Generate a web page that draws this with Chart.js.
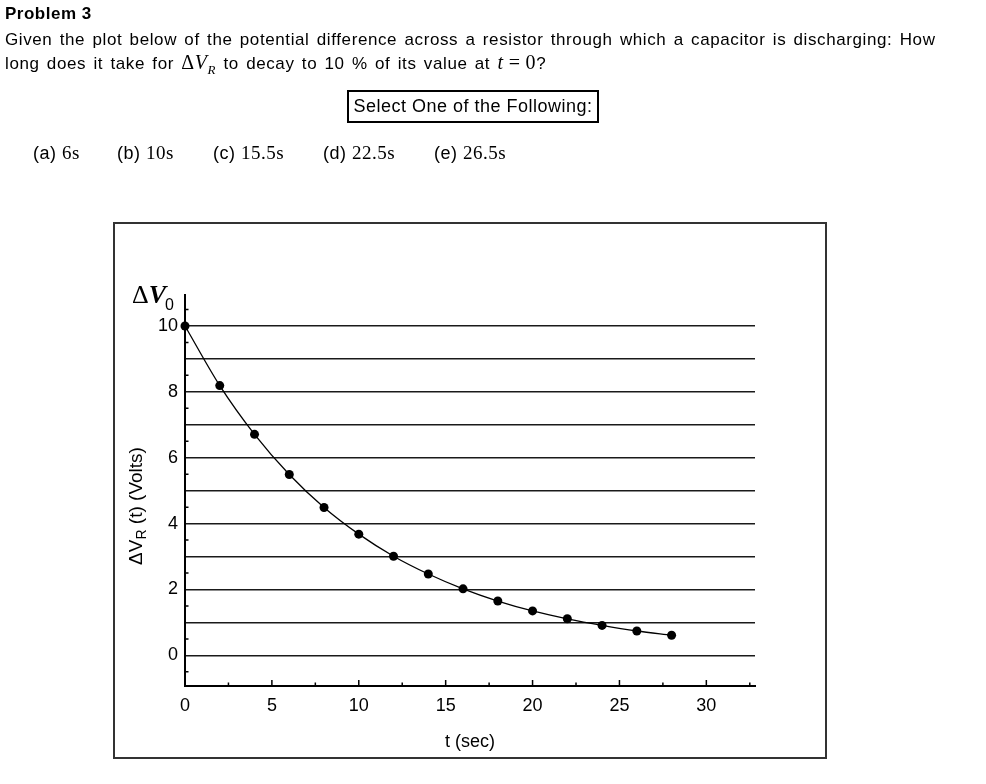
<!DOCTYPE html>
<html>
<head>
<meta charset="utf-8">
<script src="https://cdn.jsdelivr.net/npm/chart.js@4.4.1/dist/chart.umd.min.js"></script>
<style>
  body { margin: 0; width: 986px; height: 784px; position: relative; overflow: hidden; background: #fff;
         font-family: "Liberation Sans", Arial, sans-serif; color: #000; }
  .abs { position: absolute; white-space: nowrap; line-height: 1; }
  .m { font-family: "Liberation Serif", serif; }
  .i { font-style: italic; }
  .txt { font-size: 17px; letter-spacing: 0.6px; word-spacing: 2px; }
  .opt { font-size: 18px; letter-spacing: 0.5px; }
  .opt .m { font-size: 19px; }
  #c { position: absolute; left: 0; top: 0; }
  #frame { position: absolute; left: 113px; top: 222px; width: 710px; height: 533px; border: 2px solid #333; }
  #select { position: absolute; left: 347px; top: 90px; width: 248px; height: 29px; border: 2px solid #000;
            font-size: 18px; letter-spacing: 0.5px; text-align: center; line-height: 29px; }
</style>
</head>
<body>
<div id="frame"></div>
<canvas id="c" width="986" height="784"></canvas>

<div class="abs" style="left:5px;top:5px;font-size:17px;font-weight:bold;letter-spacing:0.5px;">Problem 3</div>
<div class="abs txt" style="left:5px;top:31px;">Given the plot below of the potential difference across a resistor through which a capacitor is discharging: How</div>
<div class="abs txt" style="left:5px;top:52px;">long does it take for <span class="m" style="font-size:20px">Δ<span class="i">V</span><sub class="i" style="font-size:13px">R</sub></span> to decay to 10 % of its value at <span class="m" style="font-size:20px"><span class="i">t</span><span style="margin:0 5px">=</span>0</span>?</div>
<div id="select">Select One of the Following:</div>
<div class="abs opt" style="left:33px;top:143px;">(a) <span class="m">6s</span></div>
<div class="abs opt" style="left:117px;top:143px;">(b) <span class="m">10s</span></div>
<div class="abs opt" style="left:213px;top:143px;">(c) <span class="m">15.5s</span></div>
<div class="abs opt" style="left:323px;top:143px;">(d) <span class="m">22.5s</span></div>
<div class="abs opt" style="left:434px;top:143px;">(e) <span class="m">26.5s</span></div>

<div class="abs m" style="left:132px;top:282px;font-size:26px;">Δ<span class="i" style="font-weight:bold;">V</span></div>
<div class="abs" style="left:165px;top:297px;font-size:16px;">0</div>
<div class="abs" style="left:137px;top:506px;font-size:19px;transform:translate(-50%,-50%) rotate(-90deg);">ΔV<sub style="font-size:14px">R</sub> (t) (Volts)</div>
<div class="abs" style="left:470px;top:732px;font-size:18px;transform:translateX(-50%);">t (sec)</div>

<script>
// time (s) and resistor voltage (V)
const times = [0, 2, 4, 6, 8, 10, 12, 14, 16, 18, 20, 22, 24, 26, 28];
const volts = [10, 8.19, 6.71, 5.49, 4.49, 3.68, 3.01, 2.47, 2.02, 1.65, 1.35, 1.11, 0.91, 0.74, 0.61];

// axis ticks
const xLabels = [0, 5, 10, 15, 20, 25, 30];
const xMinor = [2.5, 7.5, 12.5, 17.5, 22.5, 27.5, 32.5];
const yGrid = [0, 1, 2, 3, 4, 5, 6, 7, 8, 9, 10];
const yLabels = [0, 2, 4, 6, 8, 10];
const yMinor = [-0.5, 0.5, 1.5, 2.5, 3.5, 4.5, 5.5, 6.5, 7.5, 8.5, 9.5, 10.5];

const tickFont = { family: '"Liberation Sans", Arial, sans-serif', size: 18 };

// small tick marks drawn inward from the axes
const innerTicks = {
  id: "innerTicks",
  afterDraw(chart) {
    const { ctx, chartArea, scales } = chart;
    ctx.save();
    ctx.strokeStyle = "#000";
    ctx.lineWidth = 1.5;
    ctx.beginPath();
    xLabels.forEach((v) => {
      const px = scales.x.getPixelForValue(v);
      ctx.moveTo(px, chartArea.bottom);
      ctx.lineTo(px, chartArea.bottom - 6);
    });
    xMinor.forEach((v) => {
      const px = scales.x.getPixelForValue(v);
      ctx.moveTo(px, chartArea.bottom);
      ctx.lineTo(px, chartArea.bottom - 3.5);
    });
    yMinor.forEach((v) => {
      const py = scales.y.getPixelForValue(v);
      ctx.moveTo(chartArea.left, py);
      ctx.lineTo(chartArea.left + 3.5, py);
    });
    ctx.stroke();
    ctx.restore();
  },
};

const ctx = document.getElementById("c").getContext("2d");
new Chart(ctx, {
  type: "scatter",
  data: {
    datasets: [
      {
        data: times.map((t, i) => ({ x: t, y: volts[i] })),
        showLine: true,
        borderColor: "#000",
        borderWidth: 1.3,
        cubicInterpolationMode: "monotone",
        pointRadius: 4.5,
        pointBackgroundColor: "#000",
        pointBorderColor: "#000",
        pointBorderWidth: 0,
        clip: false,
      },
    ],
  },
  plugins: [innerTicks],
  options: {
    responsive: false,
    animation: false,
    events: [],
    layout: { padding: { left: 0, top: 295, right: 231, bottom: 0 } },
    plugins: { legend: { display: false }, tooltip: { enabled: false } },
    scales: {
      x: {
        type: "linear",
        min: 0,
        max: 32.8,
        afterFit: (s) => { s.height = 98; },
        afterBuildTicks: (s) => { s.ticks = xLabels.map((v) => ({ value: v })); },
        ticks: { font: tickFont, color: "#000", padding: 9, maxRotation: 0, autoSkip: false },
        grid: { display: false, drawTicks: false },
        border: { display: true, color: "#000", width: 2 },
      },
      y: {
        type: "linear",
        min: -0.93,
        max: 10.94,
        afterFit: (s) => { s.width = 185; },
        afterBuildTicks: (s) => { s.ticks = yGrid.map((v) => ({ value: v })); },
        ticks: {
          font: tickFont,
          color: "#000",
          padding: 7,
          autoSkip: false,
          callback: (v) => (yLabels.includes(v) ? String(v) : ""),
        },
        grid: { color: "#1a1a1a", lineWidth: 1.5, drawTicks: false },
        border: { display: true, color: "#000", width: 2 },
      },
    },
  },
});
</script>
</body>
</html>
